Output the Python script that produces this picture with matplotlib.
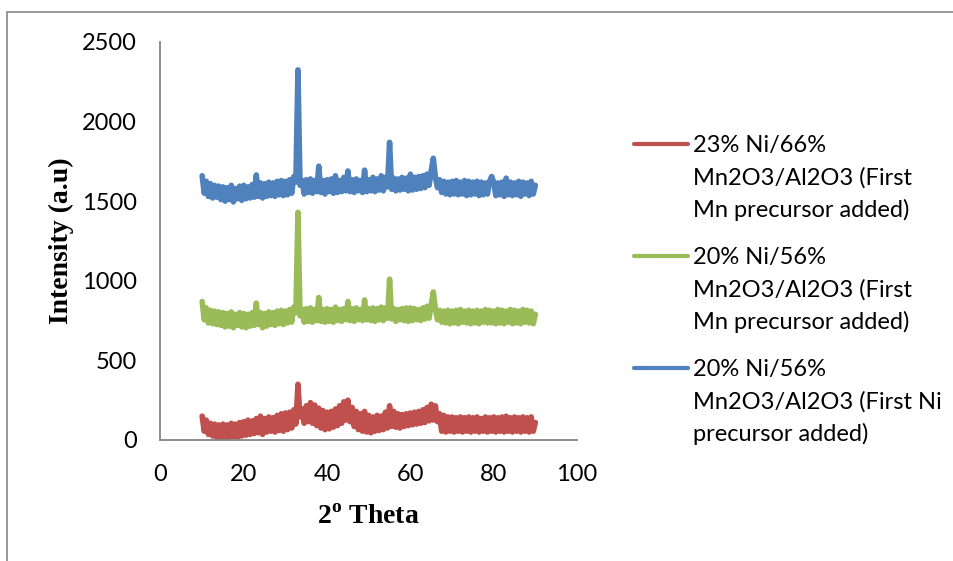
"""
XRD patterns of Ni/Mn2O3/Al2O3 catalysts (three preparation routes).
"""
import numpy as np
import matplotlib
matplotlib.use('Agg')
import matplotlib.pyplot as plt
from matplotlib.lines import Line2D
from matplotlib.patches import Rectangle

RED = '#C0504D'
GREEN = '#9BBB59'
BLUE = '#4F81BD'
GREY = '#868686'

# 2 theta grid, 10..90 deg every 0.5 deg (161 points)
two_theta = np.arange(10, 90.5, 0.5)

# 23% Ni/66% Mn2O3/Al2O3 (First Mn precursor added)
red_intensity = [
    150, 55, 125, 35, 105, 25, 100, 15, 95, 10,
    100, 10, 95, 15, 105, 20, 100, 15, 110, 25,
    115, 30, 125, 35, 120, 40, 135, 45, 150, 35,
    135, 50, 145, 55, 140, 50, 155, 60, 165, 55,
    170, 65, 175, 75, 190, 100, 350, 145, 195, 105,
    215, 115, 235, 105, 220, 90, 200, 75, 185, 65,
    175, 70, 180, 80, 195, 90, 215, 105, 240, 125,
    250, 115, 205, 85, 180, 65, 165, 55, 180, 50,
    155, 45, 145, 55, 155, 60, 150, 65, 175, 75,
    215, 85, 180, 80, 165, 75, 160, 85, 165, 90,
    170, 95, 175, 100, 180, 105, 190, 110, 205, 120,
    225, 125, 215, 115, 165, 55, 155, 50, 145, 55,
    145, 50, 140, 55, 145, 50, 140, 55, 145, 50,
    140, 55, 145, 50, 135, 55, 145, 50, 140, 55,
    145, 50, 140, 55, 145, 50, 150, 55, 140, 50,
    145, 55, 140, 50, 145, 55, 140, 50, 145, 55,
    110,
]

# 20% Ni/56% Mn2O3/Al2O3 (First Mn precursor added)
green_intensity = [
    870, 755, 830, 735, 815, 730, 810, 725, 805, 720,
    800, 710, 795, 715, 805, 705, 790, 720, 800, 710,
    795, 705, 790, 715, 800, 720, 860, 725, 800, 705,
    795, 715, 805, 725, 800, 720, 810, 730, 815, 725,
    810, 735, 820, 740, 835, 800, 1430, 780, 820, 740,
    825, 745, 830, 740, 820, 750, 895, 745, 820, 740,
    825, 745, 820, 740, 835, 750, 820, 745, 825, 755,
    870, 750, 825, 745, 830, 755, 820, 750, 880, 755,
    825, 750, 830, 745, 825, 755, 835, 750, 830, 765,
    1010, 760, 825, 745, 820, 755, 825, 750, 830, 745,
    830, 750, 825, 755, 820, 750, 830, 760, 840, 765,
    850, 930, 825, 755, 815, 740, 810, 735, 815, 730,
    810, 735, 815, 730, 820, 740, 810, 735, 815, 730,
    810, 735, 815, 730, 810, 740, 820, 735, 815, 735,
    810, 730, 820, 735, 815, 730, 810, 740, 820, 730,
    815, 735, 810, 730, 820, 740, 815, 735, 810, 730,
    790,
]

# 20% Ni/56% Mn2O3/Al2O3 (First Ni precursor added)
blue_intensity = [
    1660, 1550, 1625, 1530, 1610, 1520, 1600, 1525, 1595, 1510,
    1590, 1500, 1585, 1510, 1600, 1495, 1580, 1515, 1595, 1505,
    1600, 1515, 1590, 1520, 1605, 1525, 1665, 1530, 1615, 1520,
    1610, 1530, 1620, 1535, 1615, 1530, 1625, 1540, 1630, 1535,
    1625, 1540, 1635, 1550, 1655, 1620, 2325, 1600, 1630, 1545,
    1635, 1555, 1640, 1550, 1630, 1560, 1720, 1555, 1630, 1545,
    1635, 1560, 1640, 1550, 1660, 1555, 1630, 1560, 1650, 1565,
    1690, 1560, 1635, 1555, 1640, 1565, 1630, 1555, 1695, 1560,
    1635, 1565, 1650, 1560, 1640, 1570, 1660, 1565, 1650, 1590,
    1870, 1575, 1645, 1565, 1640, 1570, 1650, 1575, 1645, 1565,
    1670, 1570, 1650, 1575, 1655, 1580, 1660, 1585, 1670, 1600,
    1690, 1770, 1650, 1585, 1635, 1555, 1625, 1545, 1620, 1540,
    1625, 1545, 1630, 1540, 1620, 1545, 1630, 1535, 1625, 1540,
    1620, 1545, 1625, 1535, 1620, 1540, 1615, 1545, 1625, 1655,
    1620, 1535, 1615, 1540, 1620, 1530, 1645, 1540, 1620, 1535,
    1615, 1540, 1625, 1530, 1620, 1545, 1615, 1535, 1625, 1545,
    1600,
]

series_labels = [
    ['23% Ni/66%', 'Mn2O3/Al2O3 (First', 'Mn precursor added)'],
    ['20% Ni/56%', 'Mn2O3/Al2O3 (First', 'Mn precursor added)'],
    ['20% Ni/56%', 'Mn2O3/Al2O3 (First Ni', 'precursor added)'],
]
x_ticks = [0, 20, 40, 60, 80, 100]
y_ticks = [0, 500, 1000, 1500, 2000, 2500]

W, H = 954, 561
plt.rcParams['mathtext.fontset'] = 'custom'
plt.rcParams['mathtext.bf'] = 'Liberation Serif:bold'
plt.rcParams['mathtext.rm'] = 'Liberation Serif:bold'

fig = plt.figure(figsize=(W / 100, H / 100), dpi=100)
ax = fig.add_axes([160.5 / W, 1 - 440 / H, (577 - 160.5) / W, (440 - 42) / H])

series = [(red_intensity, RED), (green_intensity, GREEN), (blue_intensity, BLUE)]
for vals, col in series:
    ax.plot(two_theta, vals, color=col, lw=4,
            solid_joinstyle='round', solid_capstyle='round')

ax.set_xlim(0, 100)
ax.set_ylim(0, 2500)
ax.set_xticks(x_ticks)
ax.set_yticks(y_ticks)
for lab in ax.get_xticklabels() + ax.get_yticklabels():
    lab.set_fontfamily('Lato')
ax.tick_params(axis='both', length=0, labelsize=17)
ax.tick_params(axis='x', pad=17)
ax.tick_params(axis='y', pad=17)
for side in ['top', 'right']:
    ax.spines[side].set_visible(False)
for side in ['left', 'bottom']:
    ax.spines[side].set_color(GREY)
    ax.spines[side].set_linewidth(1.3)

fig.text(61 / W, 1 - 241 / H, 'Intensity (a.u)', rotation=90,
         ha='center', va='center', fontsize=20,
         family='Liberation Serif', fontweight='bold')
fig.text(368 / W, 1 - 517 / H, r'2$^{\mathbf{o}}$ Theta',
         ha='center', va='center', fontsize=20,
         family='Liberation Serif', fontweight='bold')

# legend, drawn by hand so the key sits on the first text line
colors = [RED, GREEN, BLUE]
for k, (lines, col) in enumerate(zip(series_labels, colors)):
    y0 = 144 + 112 * k
    fig.add_artist(Line2D([634 / W, 688 / W], [1 - y0 / H, 1 - y0 / H],
                          color=col, lw=3, solid_capstyle='round',
                          transform=fig.transFigure))
    for j, txt in enumerate(lines):
        fig.text(693 / W, 1 - (152 + 112 * k + 32.5 * j) / H, txt,
                 ha='left', va='baseline', fontsize=17, family='Lato')

# chart area frame (only top/left visible in the crop)
fig.add_artist(Rectangle((7.5 / W, -0.1), 1.2, 1 - 11.5 / H + 0.1,
                         transform=fig.transFigure, fill=False,
                         ec=GREY, lw=1.2))

fig.savefig('out.png', dpi=100)
